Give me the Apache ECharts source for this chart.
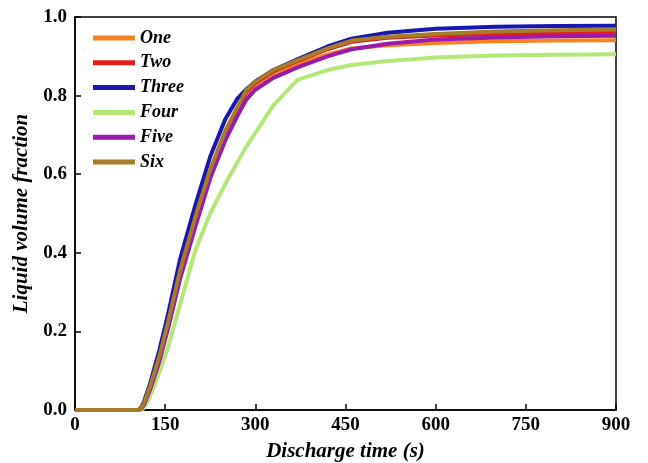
<!DOCTYPE html>
<html>
<head>
<meta charset="utf-8">
<script src="https://cdn.jsdelivr.net/npm/echarts@6/dist/echarts.min.js"></script>
<style>
  html, body { margin: 0; padding: 0; background: #fff; }
  #chart { width: 648px; height: 463px; }
</style>
</head>
<body>
<div id="chart"></div>
<script>
const times = [0, 100, 106, 110, 115, 125, 140, 155, 175, 200, 225, 250, 270, 285, 300, 330, 370, 420, 460, 520, 600, 700, 800, 900]

const one   = [0, 0, 0, 0.004, 0.016, 0.055, 0.128, 0.215, 0.343, 0.475, 0.595, 0.695, 0.755, 0.800, 0.825, 0.855, 0.880, 0.905, 0.920, 0.928, 0.934, 0.938, 0.940, 0.941]
const two   = [0, 0, 0, 0.005, 0.018, 0.058, 0.132, 0.220, 0.350, 0.485, 0.605, 0.705, 0.765, 0.810, 0.832, 0.862, 0.888, 0.918, 0.937, 0.947, 0.953, 0.957, 0.959, 0.960]
const three = [0, 0, 0, 0.006, 0.022, 0.068, 0.150, 0.245, 0.385, 0.520, 0.645, 0.740, 0.792, 0.816, 0.836, 0.865, 0.892, 0.925, 0.945, 0.960, 0.970, 0.975, 0.977, 0.978]
const four  = [0, 0, 0, 0, 0.006, 0.035, 0.095, 0.160, 0.270, 0.405, 0.500, 0.575, 0.630, 0.670, 0.705, 0.775, 0.840, 0.865, 0.878, 0.888, 0.897, 0.902, 0.904, 0.905]
const five  = [0, 0, 0, 0.003, 0.014, 0.052, 0.122, 0.208, 0.335, 0.465, 0.590, 0.686, 0.748, 0.790, 0.815, 0.845, 0.872, 0.900, 0.918, 0.932, 0.943, 0.948, 0.951, 0.952]
const six   = [0, 0, 0, 0.005, 0.018, 0.060, 0.135, 0.225, 0.356, 0.490, 0.612, 0.710, 0.770, 0.814, 0.835, 0.865, 0.890, 0.920, 0.940, 0.950, 0.957, 0.963, 0.966, 0.968]

const names = ['One', 'Two', 'Three', 'Four', 'Five', 'Six']
const values = [one, two, three, four, five, six]
const colors = ['#f7821e', '#e61c1c', '#1818b0', '#b4e678', '#9a1aae', '#a57c28']

const FONT = '"Liberation Serif", "Times New Roman", serif'

const chart = echarts.init(document.getElementById('chart'))

const series = names.map((name, i) => ({
  name,
  type: 'line',
  smooth: false,
  showSymbol: false,
  lineStyle: { width: 4, color: colors[i], join: 'round' },
  itemStyle: { color: colors[i] },
  data: times.map((t, k) => [t, values[i][k]])
}))

chart.setOption({
  animation: false,
  grid: {
    left: 75,
    right: 32,
    top: 17,
    bottom: 53,
    outerBoundsMode: 'none',
    show: true,
    borderColor: '#000',
    borderWidth: 1.5
  },
  legend: {
    orient: 'vertical',
    left: 88,
    top: 24,
    icon: 'rect',
    itemWidth: 42,
    itemHeight: 5,
    itemGap: 6.8,
    data: names,
    textStyle: {
      fontFamily: FONT,
      fontWeight: 'bold',
      fontStyle: 'italic',
      fontSize: 18,
      color: '#000'
    }
  },
  xAxis: {
    type: 'value',
    min: 0,
    max: 900,
    interval: 150,
    name: 'Discharge time (s)',
    nameLocation: 'middle',
    nameGap: 31,
    nameTextStyle: {
      fontFamily: FONT,
      fontWeight: 'bold',
      fontStyle: 'italic',
      fontSize: 21,
      color: '#000'
    },
    axisLine: { lineStyle: { color: '#000', width: 1.5 } },
    axisTick: { inside: true, length: 6, lineStyle: { color: '#000', width: 1.5 } },
    axisLabel: {
      fontFamily: FONT,
      fontWeight: 'bold',
      fontSize: 19,
      color: '#000',
      margin: 6
    },
    splitLine: { show: false }
  },
  yAxis: {
    type: 'value',
    min: 0,
    max: 1,
    interval: 0.2,
    name: 'Liquid volume fraction',
    nameLocation: 'middle',
    nameGap: 41,
    nameTextStyle: {
      fontFamily: FONT,
      fontWeight: 'bold',
      fontStyle: 'italic',
      fontSize: 21,
      color: '#000'
    },
    axisLine: { show: true, lineStyle: { color: '#000', width: 1.5 } },
    axisTick: { show: true, inside: true, length: 6, lineStyle: { color: '#000', width: 1.5 } },
    axisLabel: {
      fontFamily: FONT,
      fontWeight: 'bold',
      fontSize: 19,
      color: '#000',
      margin: 8,
      formatter: v => v.toFixed(1)
    },
    splitLine: { show: false }
  },
  series
})
</script>
</body>
</html>
